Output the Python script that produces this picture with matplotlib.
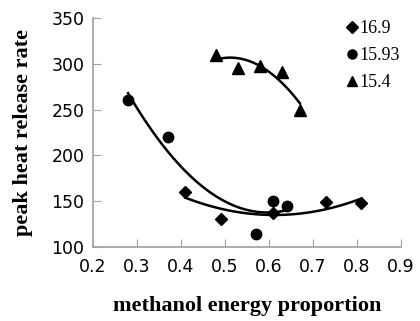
import numpy as np
import matplotlib
matplotlib.use('Agg')
import matplotlib.pyplot as plt

# series
x_169 = [0.41, 0.49, 0.61, 0.73, 0.81]
y_169 = [160, 131, 137, 149, 148]
x_1593 = [0.28, 0.37, 0.57, 0.61, 0.64]
y_1593 = [260, 220, 114, 150, 145]
x_154 = [0.48, 0.53, 0.58, 0.63, 0.67]
y_154 = [310, 295, 298, 291, 250]

labels = ["16.9", "15.93", "15.4"]
markers = ["D", "o", "^"]
msizes = [6.5, 7.5, 9]
xticks = [0.2, 0.3, 0.4, 0.5, 0.6, 0.7, 0.8, 0.9]
yticks = [100, 150, 200, 250, 300, 350]

fig = plt.figure(figsize=(4.2, 3.21), dpi=100)
ax = fig.add_axes([0.221, 0.2305, 0.734, 0.7135])

handles = []
for xs, ys, lab, mk, ms in zip([x_169, x_1593, x_154], [y_169, y_1593, y_154],
                               labels, markers, msizes):
    h, = ax.plot(xs, ys, linestyle='none', marker=mk, color='black',
                 markersize=ms, label=lab)
    handles.append(h)
    # second order trendline
    c = np.polyfit(xs, ys, 2)
    xx = np.linspace(min(xs), max(xs), 100)
    ax.plot(xx, np.polyval(c, xx), color='black', linewidth=1.8)

ax.set_xlim(0.2, 0.9)
ax.set_ylim(100, 350)
ax.set_xticks(xticks)
ax.set_yticks(yticks)
ax.set_xticklabels([f"{t:.1f}" for t in xticks])
ax.tick_params(direction='in', length=6, color='#a0a0a0', labelsize=12.5)
ax.tick_params(axis='x', pad=8)
ax.tick_params(axis='y', pad=6)
for s in ['top', 'right']:
    ax.spines[s].set_visible(False)
for s in ['left', 'bottom']:
    ax.spines[s].set_color('#a0a0a0')
    ax.spines[s].set_linewidth(1.2)

ax.set_xlabel("methanol energy proportion", fontfamily='Liberation Serif',
              fontweight='bold', fontsize=16, labelpad=14)
ax.set_ylabel("peak heat release rate", fontfamily='Liberation Serif',
              fontweight='bold', fontsize=16, labelpad=13)

leg = ax.legend(handles=handles, loc='upper left', bbox_to_anchor=(0.775, 1.06),
                frameon=False, handlelength=0.4, handletextpad=0.25,
                labelspacing=0.55, prop={'family': 'Liberation Serif', 'size': 13})
for h in leg.legend_handles:
    h.set_markersize(6.5)

fig.savefig("out.png", dpi=100)
